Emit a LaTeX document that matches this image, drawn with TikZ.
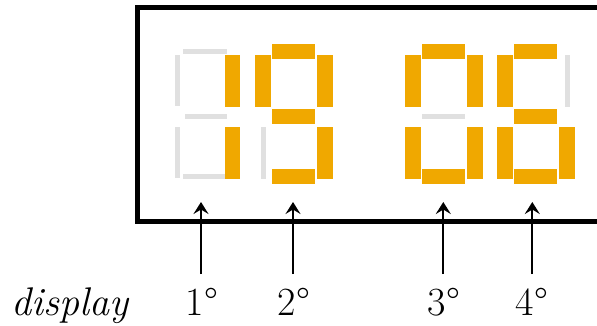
\documentclass[tikz,border=0pt]{standalone}
\usepackage{fontspec}
\usetikzlibrary{arrows.meta}
\definecolor{segon}{HTML}{F0A800}
\definecolor{segoff}{HTML}{E0E0E0}
\newcommand\hOn[2]{\fill[on] ({#1+17},{#2-7.5}) rectangle ({#1+60},{#2+7.5});}
\newcommand\hOff[2]{\fill[off] ({#1+17},{#2-2.5}) rectangle ({#1+60},{#2+2.5});}
\newcommand\vOn[2]{\fill[on] (#1,#2) rectangle ({#1+16},{#2+52});}
\newcommand\vOff[2]{\fill[off] ({#1+5.5},#2) rectangle ({#1+10.5},{#2+52});}
\begin{document}
\begin{tikzpicture}[x=1pt,y=-1pt,
  on/.style={fill=segon},
  off/.style={fill=segoff},
  frame/.style={draw=black,line width=5pt},
  arr/.style={-{Stealth[length=12pt,width=15pt,inset=4.5pt]}, line width=2pt},
  lab/.style={inner sep=0pt, anchor=base, font=\fontsize{40}{42}\selectfont}]
\useasboundingbox (0,0) rectangle (597,325);
\clip (0,0) rectangle (597,325);
\draw[frame] (137.5,7.5) rectangle (640,221);
% digit 1 (only b, c lit)
\fill[off] (175,55) rectangle (180,106);
\fill[off] (175,127) rectangle (180,178);
\fill[off] (183,49) rectangle (227,54);
\fill[off] (185,114) rectangle (227,119);
\fill[off] (183,174) rectangle (225,179);
\fill[on] (225,54.5) rectangle (240,106.5);
\fill[on] (225,127) rectangle (240,179);
% digit 2 : 9 without e
\vOff{255}{127}
\hOn{255}{51.5} \hOn{255}{116.5} \hOn{255}{176.5}
\vOn{255}{54.5} \vOn{317}{54.5} \vOn{317}{127}
% digit 3 : 0
\hOff{404.5}{116.5}
\hOn{404.5}{51.5} \hOn{404.5}{176.5}
\vOn{404.5}{54.5} \vOn{404.5}{127} \vOn{466.5}{54.5} \vOn{466.5}{127}
% digit 4 : 6
\vOff{559}{54.5}
\hOn{497}{51.5} \hOn{497}{116.5} \hOn{497}{176.5}
\vOn{497}{54.5} \vOn{497}{127} \vOn{559}{127}
% labels
\node[lab,anchor=base west] (dl) at (11,315) {\itshape display};
\node[lab] (l1) at (202,315) {1°};
\node[lab] (l2) at (294,315) {2°};
\node[lab] (l3) at (444,315) {3°};
\node[lab] (l4) at (532,315) {4°};
% arrows
\coordinate (b1) at (201,274);   \coordinate (t1) at (201,202);
\coordinate (b2) at (293,274);   \coordinate (t2) at (293,202);
\coordinate (b3) at (443.3,274); \coordinate (t3) at (443.3,202);
\coordinate (b4) at (532.3,274); \coordinate (t4) at (532.3,202);
\draw[arr] (b1) -- (t1);
\draw[arr] (b2) -- (t2);
\draw[arr] (b3) -- (t3);
\draw[arr] (b4) -- (t4);
\end{tikzpicture}
\end{document}
